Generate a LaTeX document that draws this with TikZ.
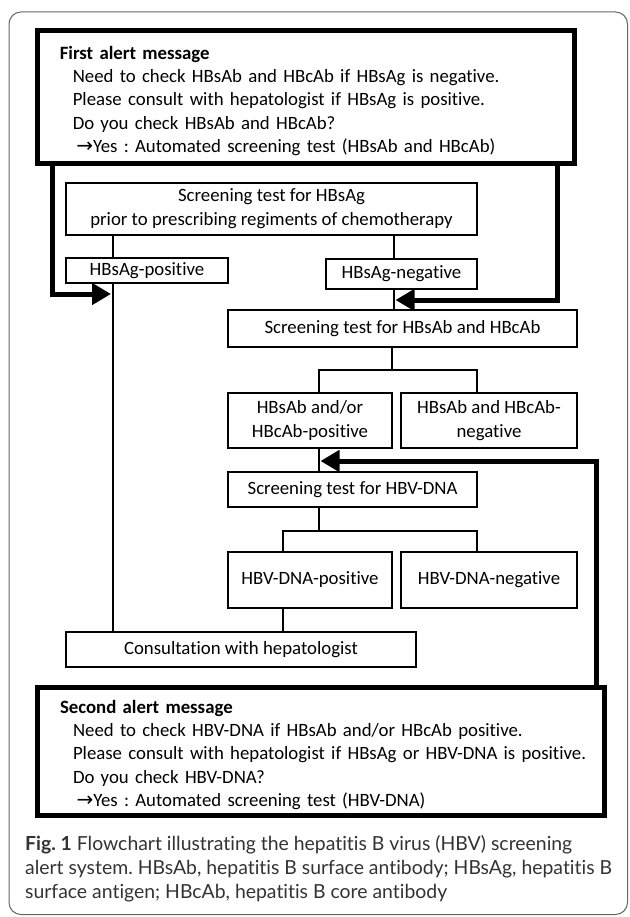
\documentclass[tikz,border=0pt]{standalone}
\usepackage{fontspec}
\setmainfont[Ligatures=NoCommon]{Carlito}
\newfontfamily\capfont[Ligatures=NoCommon]{Lato}
\newfontfamily\symfont{DejaVu Sans}
\usetikzlibrary{positioning,arrows.meta}
\frenchspacing
\newcommand\headline[1]{\rule{0pt}{21pt}\hspace*{22.5pt}\textbf{#1}}
\newcommand\bodyline{\hspace*{35.5pt}}
\newcommand\yesline{\hspace*{39pt}{\symfont\fontsize{20}{20}\selectfont →}}

\begin{document}
\begin{tikzpicture}
[x=1pt,y=-1pt,
 box/.style={shape=rectangle,draw,line width=2pt,inner sep=0pt,align=center,
   font=\fontsize{18.8}{24}\selectfont},
 alert/.style={shape=rectangle,draw,line width=5pt,inner sep=0pt,
   align=left,font=\fontsize{18.8}{23.4}\selectfont},
 link/.style={line width=2pt},
 flow/.style={line width=5pt,-{Triangle[length=19pt,width=21pt]}},
 frame/.style={draw=black!60,line width=1pt,rounded corners=12pt}]
\useasboundingbox (0,0) rectangle (629,917);
\draw[frame] (9,12) rectangle (627.5,914.5);

\node[alert] (alert1) at (306,97) [minimum width=537.5pt,minimum height=133.5pt,text width=537.5pt]
 {\headline{First alert message}\\
  \bodyline Need to check HBsAb and HBcAb if HBsAg is negative.\\
  \bodyline Please consult with hepatologist if HBsAg is positive.\\
  \bodyline Do you check HBsAb and HBcAb?\\
  \yesline Yes : Automated screening test (HBsAb and HBcAb)};
\node[box] (hbsag) at (271.5,209) [minimum width=411pt,minimum height=52pt]
 {Screening test for HBsAg\\prior to prescribing regiments of chemotherapy};
\node[box] (agpos) at (147,270.5) [minimum width=162pt,minimum height=25pt] {HBsAg-positive};
\node[box] (agneg) at (401.5,274) [minimum width=151pt,minimum height=30pt] {HBsAg-negative};
\node[box] (abtest) at (402.5,328.5) [minimum width=349pt,minimum height=37pt] {Screening test for HBsAb and HBcAb};
\node[box] (abpos) at (310,420.5) [minimum width=164pt,minimum height=55pt] {HBsAb and/or\\HBcAb-positive};
\node[box] (abneg) at (489,420.5) [minimum width=176pt,minimum height=55pt] {HBsAb and HBcAb-\\negative};
\node[box] (dnatest) at (352.5,489.5) [minimum width=249pt,minimum height=35pt] {Screening test for HBV-DNA};
\node[box] (dnapos) at (310,580) [minimum width=164pt,minimum height=56pt] {HBV-DNA-positive};
\node[box] (dnaneg) at (489,580) [minimum width=176pt,minimum height=56pt] {HBV-DNA-negative};
\node[box] (consult) at (241,649.5) [minimum width=350pt,minimum height=35pt] {Consultation with hepatologist};
\node[alert] (alert2) at (321,751) [minimum width=567pt,minimum height=128pt,text width=567pt]
 {\headline{Second alert message}\\
  \bodyline Need to check HBV-DNA if HBsAb and/or HBcAb positive.\\
  \bodyline Please consult with hepatologist if HBsAg or HBV-DNA is positive.\\
  \bodyline Do you check HBV-DNA?\\
  \yesline Yes : Automated screening test (HBV-DNA)};
\node[anchor=west,inner sep=0pt,align=left,text=black!80,font=\capfont\fontsize{19.4}{24}\selectfont]
 (caption) at (25,869)
 {\textbf{Fig. 1} Flowchart illustrating the hepatitis B virus (HBV) screening\\
  alert system. HBsAb, hepatitis B surface antibody; HBsAg, hepatitis B\\
  surface antigen; HBcAb, hepatitis B core antibody};

% forks
\coordinate (abfork) at (392,370);
\coordinate (dnafork) at (319,531);
% arrow tips
\coordinate (tip1) at (111,294);
\coordinate (tip2) at (395.5,300);
\coordinate (tip3) at (320.5,461);

\draw[link] (hbsag.south -| 113,0) -- (agpos.north -| 113,0);
\draw[link] (hbsag.south -| 394,0) -- (agneg.north -| 394,0);
\draw[link] (agpos.south -| 113,0) -- (consult.north -| 113,0);
\draw[link] (agneg.south -| 394,0) -- (abtest.north -| 394,0);
\draw[link] (abtest.south -| abfork) -- (abfork);
\draw[link] (abpos.north -| 319,0) |- (abfork) -| (abneg.north -| 477,0);
\draw[link] (abpos.south -| 319,0) -- (dnatest.north -| 319,0);
\draw[link] (dnatest.south -| dnafork) -- (dnafork);
\draw[link] (dnapos.north -| 283,0) |- (dnafork) -| (dnaneg.north -| 477,0);
\draw[link] (dnapos.south -| 283,0) -- (consult.north -| 283,0);

\draw[flow] (alert1.south -| 52.5,0) |- (tip1);
\draw[flow] (alert1.south -| 557,0) |- (tip2);
\draw[flow] (alert2.north -| 596,0) |- (tip3);
\end{tikzpicture}
\end{document}
